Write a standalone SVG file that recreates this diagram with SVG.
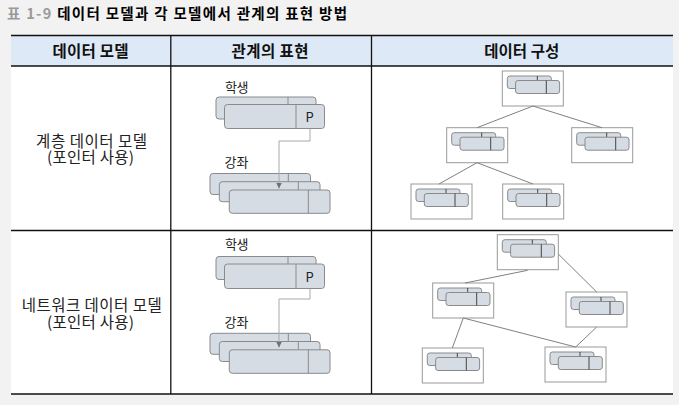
<svg xmlns="http://www.w3.org/2000/svg" xmlns:xlink="http://www.w3.org/1999/xlink" width="679" height="405" viewBox="0 0 679 405">
<style>
text{font-family:"Noto Sans CJK KR","Malgun Gothic",sans-serif;}
.title{font-size:14.5px;font-weight:bold;fill:#000;}
.tnum{fill:#9a9a9a;}
.hd{font-size:15.5px;font-weight:bold;fill:#111;text-anchor:middle;}
.lc{font-size:15.5px;fill:#222;text-anchor:middle;}
.lbl{font-size:13px;fill:#222;}
.rec{fill:#d6dce4;stroke:#8a8a8a;stroke-width:1;}
.div{stroke:#8a8a8a;stroke-width:1;}
.sdiv{stroke:#444;stroke-width:1;}
.box{fill:#fff;stroke:#999;stroke-width:1;}
.grid{stroke:#111;stroke-width:1.3;}
.edge{stroke:#808080;stroke-width:1;fill:none;}
.ptr{stroke:#a8a8a8;stroke-width:1;fill:none;}
</style>
<defs>
<marker id="arr" viewBox="0 0 6 6" refX="6" refY="3" markerWidth="6" markerHeight="6" markerUnits="userSpaceOnUse" orient="auto">
<path d="M0,0 L6,3 L0,6 z" fill="#707070"/>
</marker>
<g id="mini">
<rect class="box" x="0" y="0" width="61" height="35"/>
<rect class="rec" x="5" y="5" width="44" height="12.5" rx="2.5"/>
<line class="sdiv" x1="35" y1="5" x2="35" y2="9.5"/>
<rect class="rec" x="13.3" y="9.5" width="44" height="13" rx="2.5"/>
<line class="sdiv" x1="44" y1="9.5" x2="44" y2="22.5"/>
</g>
</defs>
<rect x="0" y="0" width="679" height="405" fill="#f2f2f2"/>
<text class="title" x="7" y="19" textLength="340" lengthAdjust="spacing"><tspan class="tnum">표 1-9</tspan> 데이터 모델과 각 모델에서 관계의 표현 방법</text>
<g id="table">
<rect x="11" y="35.5" width="662" height="358.5" fill="#fff"/>
<rect x="11" y="35.5" width="662" height="30.5" fill="#dde9f6"/>
<line class="grid" x1="11" y1="35.5" x2="673" y2="35.5"/>
<line class="grid" x1="11" y1="66" x2="673" y2="66"/>
<line class="grid" x1="11" y1="230.5" x2="673" y2="230.5"/>
<line class="grid" x1="11" y1="394" x2="673" y2="394"/>
<line class="grid" x1="170.8" y1="35.5" x2="170.8" y2="394"/>
<line class="grid" x1="371.5" y1="35.5" x2="371.5" y2="394"/>
<text class="hd" x="90.5" y="57" textLength="76" lengthAdjust="spacing">데이터 모델</text>
<text class="hd" x="270" y="57" textLength="77" lengthAdjust="spacing">관계의 표현</text>
<text class="hd" x="521.7" y="57" textLength="75" lengthAdjust="spacing">데이터 구성</text>
<text class="lc" x="91.6" y="146.5" textLength="111" lengthAdjust="spacing">계층 데이터 모델</text>
<text class="lc" x="90.4" y="163" textLength="87" lengthAdjust="spacing">(포인터 사용)</text>
<text class="lc" x="91.7" y="311" textLength="140" lengthAdjust="spacing">네트워크 데이터 모델</text>
<text class="lc" x="90.4" y="328" textLength="87" lengthAdjust="spacing">(포인터 사용)</text>
</g>
<g id="h-student">
<text class="lbl" x="225" y="91.5" textLength="23.5">학생</text>
<rect class="rec" x="216" y="97" width="100" height="22" rx="3"/>
<line class="div" x1="288" y1="97" x2="288" y2="104.5"/>
<rect class="rec" x="224.5" y="104.5" width="100" height="24" rx="3"/>
<line class="div" x1="296" y1="104.5" x2="296" y2="128.5"/>
<text class="lbl" x="309.5" y="122.3" text-anchor="middle">P</text>
</g>
<g id="h-course">
<text class="lbl" x="224.5" y="166.5" textLength="24">강좌</text>
<rect class="rec" x="210" y="173.5" width="100.5" height="21" rx="3"/>
<line class="div" x1="288.3" y1="173.5" x2="288.3" y2="181.7"/>
<rect class="rec" x="219.3" y="181.7" width="100.7" height="20" rx="3"/>
<line class="div" x1="298.3" y1="181.7" x2="298.3" y2="190"/>
<rect class="rec" x="229.3" y="190" width="100.7" height="23.3" rx="3"/>
<line class="div" x1="308.3" y1="190" x2="308.3" y2="213.3"/>
</g>
<g id="n-student">
<text class="lbl" x="225" y="249" textLength="23.5">학생</text>
<rect class="rec" x="216" y="256.5" width="100" height="23" rx="3"/>
<line class="div" x1="288" y1="256.5" x2="288" y2="264"/>
<rect class="rec" x="224.5" y="264" width="100" height="24.5" rx="3"/>
<line class="div" x1="296" y1="264" x2="296" y2="288.5"/>
<text class="lbl" x="309.5" y="282.3" text-anchor="middle">P</text>
</g>
<g id="n-course">
<text class="lbl" x="224.5" y="326.5" textLength="24">강좌</text>
<rect class="rec" x="210" y="333.3" width="100.5" height="21" rx="3"/>
<line class="div" x1="288.3" y1="333.3" x2="288.3" y2="341.5"/>
<rect class="rec" x="219.3" y="341.5" width="100.7" height="20" rx="3"/>
<line class="div" x1="298.3" y1="341.5" x2="298.3" y2="349.8"/>
<rect class="rec" x="229.3" y="349.8" width="100.7" height="23.5" rx="3"/>
<line class="div" x1="308.3" y1="349.8" x2="308.3" y2="373.3"/>
</g>
<g id="h-root"><use xlink:href="#mini" x="502.3" y="71"/></g>
<g id="h-mid-left"><use xlink:href="#mini" x="446.7" y="127.7"/></g>
<g id="h-mid-right"><use xlink:href="#mini" x="571.7" y="127.7"/></g>
<g id="h-leaf-left"><use xlink:href="#mini" x="411" y="184"/></g>
<g id="h-leaf-right"><use xlink:href="#mini" x="502.7" y="184"/></g>
<g id="n-top"><use xlink:href="#mini" x="497.3" y="234.7"/></g>
<g id="n-left"><use xlink:href="#mini" x="432.7" y="283"/></g>
<g id="n-right"><use xlink:href="#mini" x="566" y="292"/></g>
<g id="n-bottom-left"><use xlink:href="#mini" x="422.3" y="348"/></g>
<g id="n-bottom-right"><use xlink:href="#mini" x="545" y="347"/></g>
<g id="connectors">
<polyline class="ptr" points="310,128.5 310,141 279,141 279,188.5" marker-end="url(#arr)"/>
<polyline class="ptr" points="310,288.5 310,299 279,299 279,347.5" marker-end="url(#arr)"/>
<line class="edge" x1="533" y1="106" x2="477" y2="127.7"/>
<line class="edge" x1="533" y1="106" x2="602" y2="127.7"/>
<line class="edge" x1="477" y1="162.7" x2="439" y2="184"/>
<line class="edge" x1="477" y1="162.7" x2="533" y2="184"/>
<line class="edge" x1="527.7" y1="270.3" x2="465" y2="283"/>
<line class="edge" x1="558.3" y1="254" x2="596.7" y2="292"/>
<line class="edge" x1="463.3" y1="318" x2="452.3" y2="348"/>
<line class="edge" x1="463.3" y1="318" x2="575.7" y2="347"/>
<line class="edge" x1="596.7" y1="327" x2="575.7" y2="347"/>
</g>
</svg>
